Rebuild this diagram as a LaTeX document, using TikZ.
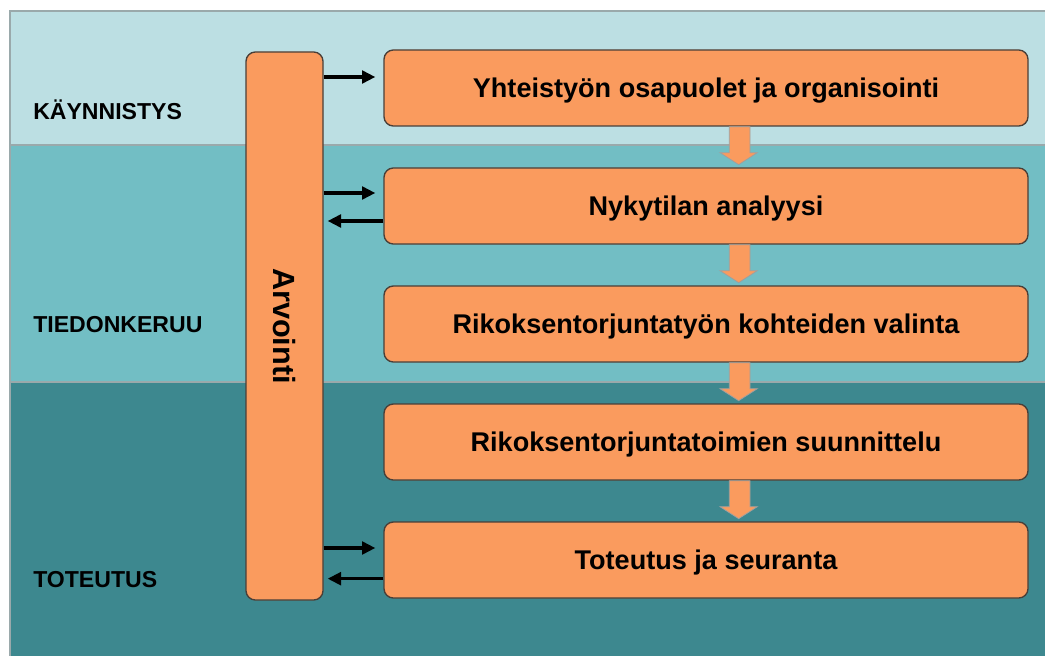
\documentclass[tikz,border=0pt]{standalone}
\usepackage{fontspec}
\setmainfont{Liberation Sans}
\usetikzlibrary{arrows.meta, positioning}

\definecolor{bandtop}{HTML}{BCDFE3}
\definecolor{bandmid}{HTML}{72BEC4}
\definecolor{bandlow}{HTML}{3D888F}
\definecolor{bandline}{HTML}{9AA9AB}
\definecolor{boxfill}{HTML}{FA9B5E}
\definecolor{boxline}{HTML}{4A3F38}

\begin{document}
\begin{tikzpicture}[x=0.75pt, y=-0.75pt, node distance=30.5pt]
    \tikzset{
        phase/.style = {anchor=west, inner sep=0pt, font=\bfseries\fontsize{17.3}{20}\selectfont},
        stage/.style = {rectangle, rounded corners=7pt, draw=boxline, line width=1pt, fill=boxfill, minimum width=483pt, minimum height=57pt, text depth=-1pt, font=\bfseries\fontsize{20.3}{24}\selectfont},
        evalbox/.style = {rectangle, rounded corners=7pt, draw=boxline, line width=1pt, fill=boxfill, minimum width=57.75pt, minimum height=411pt, font=\bfseries\fontsize{23}{27}\selectfont},
        line/.style = {draw, line width=2.4pt, -{Triangle[length=10pt, width=9.5pt]}},
        flow/.style = {fill=boxfill, draw=gray!75, line width=0.6pt}
    }
    \useasboundingbox (0,0) rectangle (1045,656);

    % phase bands
    \fill[bandtop] (10,11) rectangle (1045,145);
    \fill[bandmid] (10,145) rectangle (1045,382);
    \fill[bandlow] (10,382) rectangle (1045,656);
    \draw[bandline, line width=1.5pt] (10,656) -- (10,11) -- (1045,11);
    \draw[bandline, line width=2pt] (10,145) -- (1045,145);
    \draw[bandline, line width=2pt] (10,382) -- (1045,382);

    \node[phase] (start) at (33,110) {KÄYNNISTYS};
    \node[phase] (collect) at (33,325) {TIEDONKERUU};
    \node[phase] (execute) at (33,580) {TOTEUTUS};

    % process steps
    \node[evalbox] (arvointi) at (284.5,326) {\rotatebox{-90}{Arvointi}};
    \node[stage] (partners) at (706,88) {Yhteistyön osapuolet ja organisointi};
    \node[stage, below=of partners] (analysis) {Nykytilan analyysi};
    \node[stage, below=of analysis] (targets) {Rikoksentorjuntatyön kohteiden valinta};
    \node[stage, below=of targets] (planning) {Rikoksentorjuntatoimien suunnittelu};
    \node[stage, below=of planning] (followup) {Toteutus ja seuranta};

    \foreach \a/\b in {partners/analysis, analysis/targets, targets/planning, planning/followup}
        \path[flow] ([xshift=17.5pt]\a.south) -- ([xshift=17.5pt, yshift=11pt]\b.north)
            -- ([xshift=10.5pt, yshift=11pt]\b.north) -- ([xshift=24.5pt, yshift=2pt]\b.north)
            -- ([xshift=38.5pt, yshift=11pt]\b.north) -- ([xshift=33pt, yshift=11pt]\b.north)
            -- ([xshift=33pt]\a.south) -- cycle;

    % feedback to evaluation
    \path[line, shorten >=6pt] ([yshift=8.25pt]partners.west -| arvointi.east) -- ([yshift=8.25pt]partners.west);
    \path[line, shorten >=6pt] ([yshift=9.75pt]analysis.west -| arvointi.east) -- ([yshift=9.75pt]analysis.west);
    \path[line, shorten >=3pt] ([yshift=-11.25pt]analysis.west) -- ([yshift=-11.25pt]analysis.west -| arvointi.east);
    \path[line, shorten >=6pt] ([yshift=9pt]followup.west -| arvointi.east) -- ([yshift=9pt]followup.west);
    \path[line, shorten >=3pt] ([yshift=-14pt]followup.west) -- ([yshift=-14pt]followup.west -| arvointi.east);
\end{tikzpicture}
\end{document}
